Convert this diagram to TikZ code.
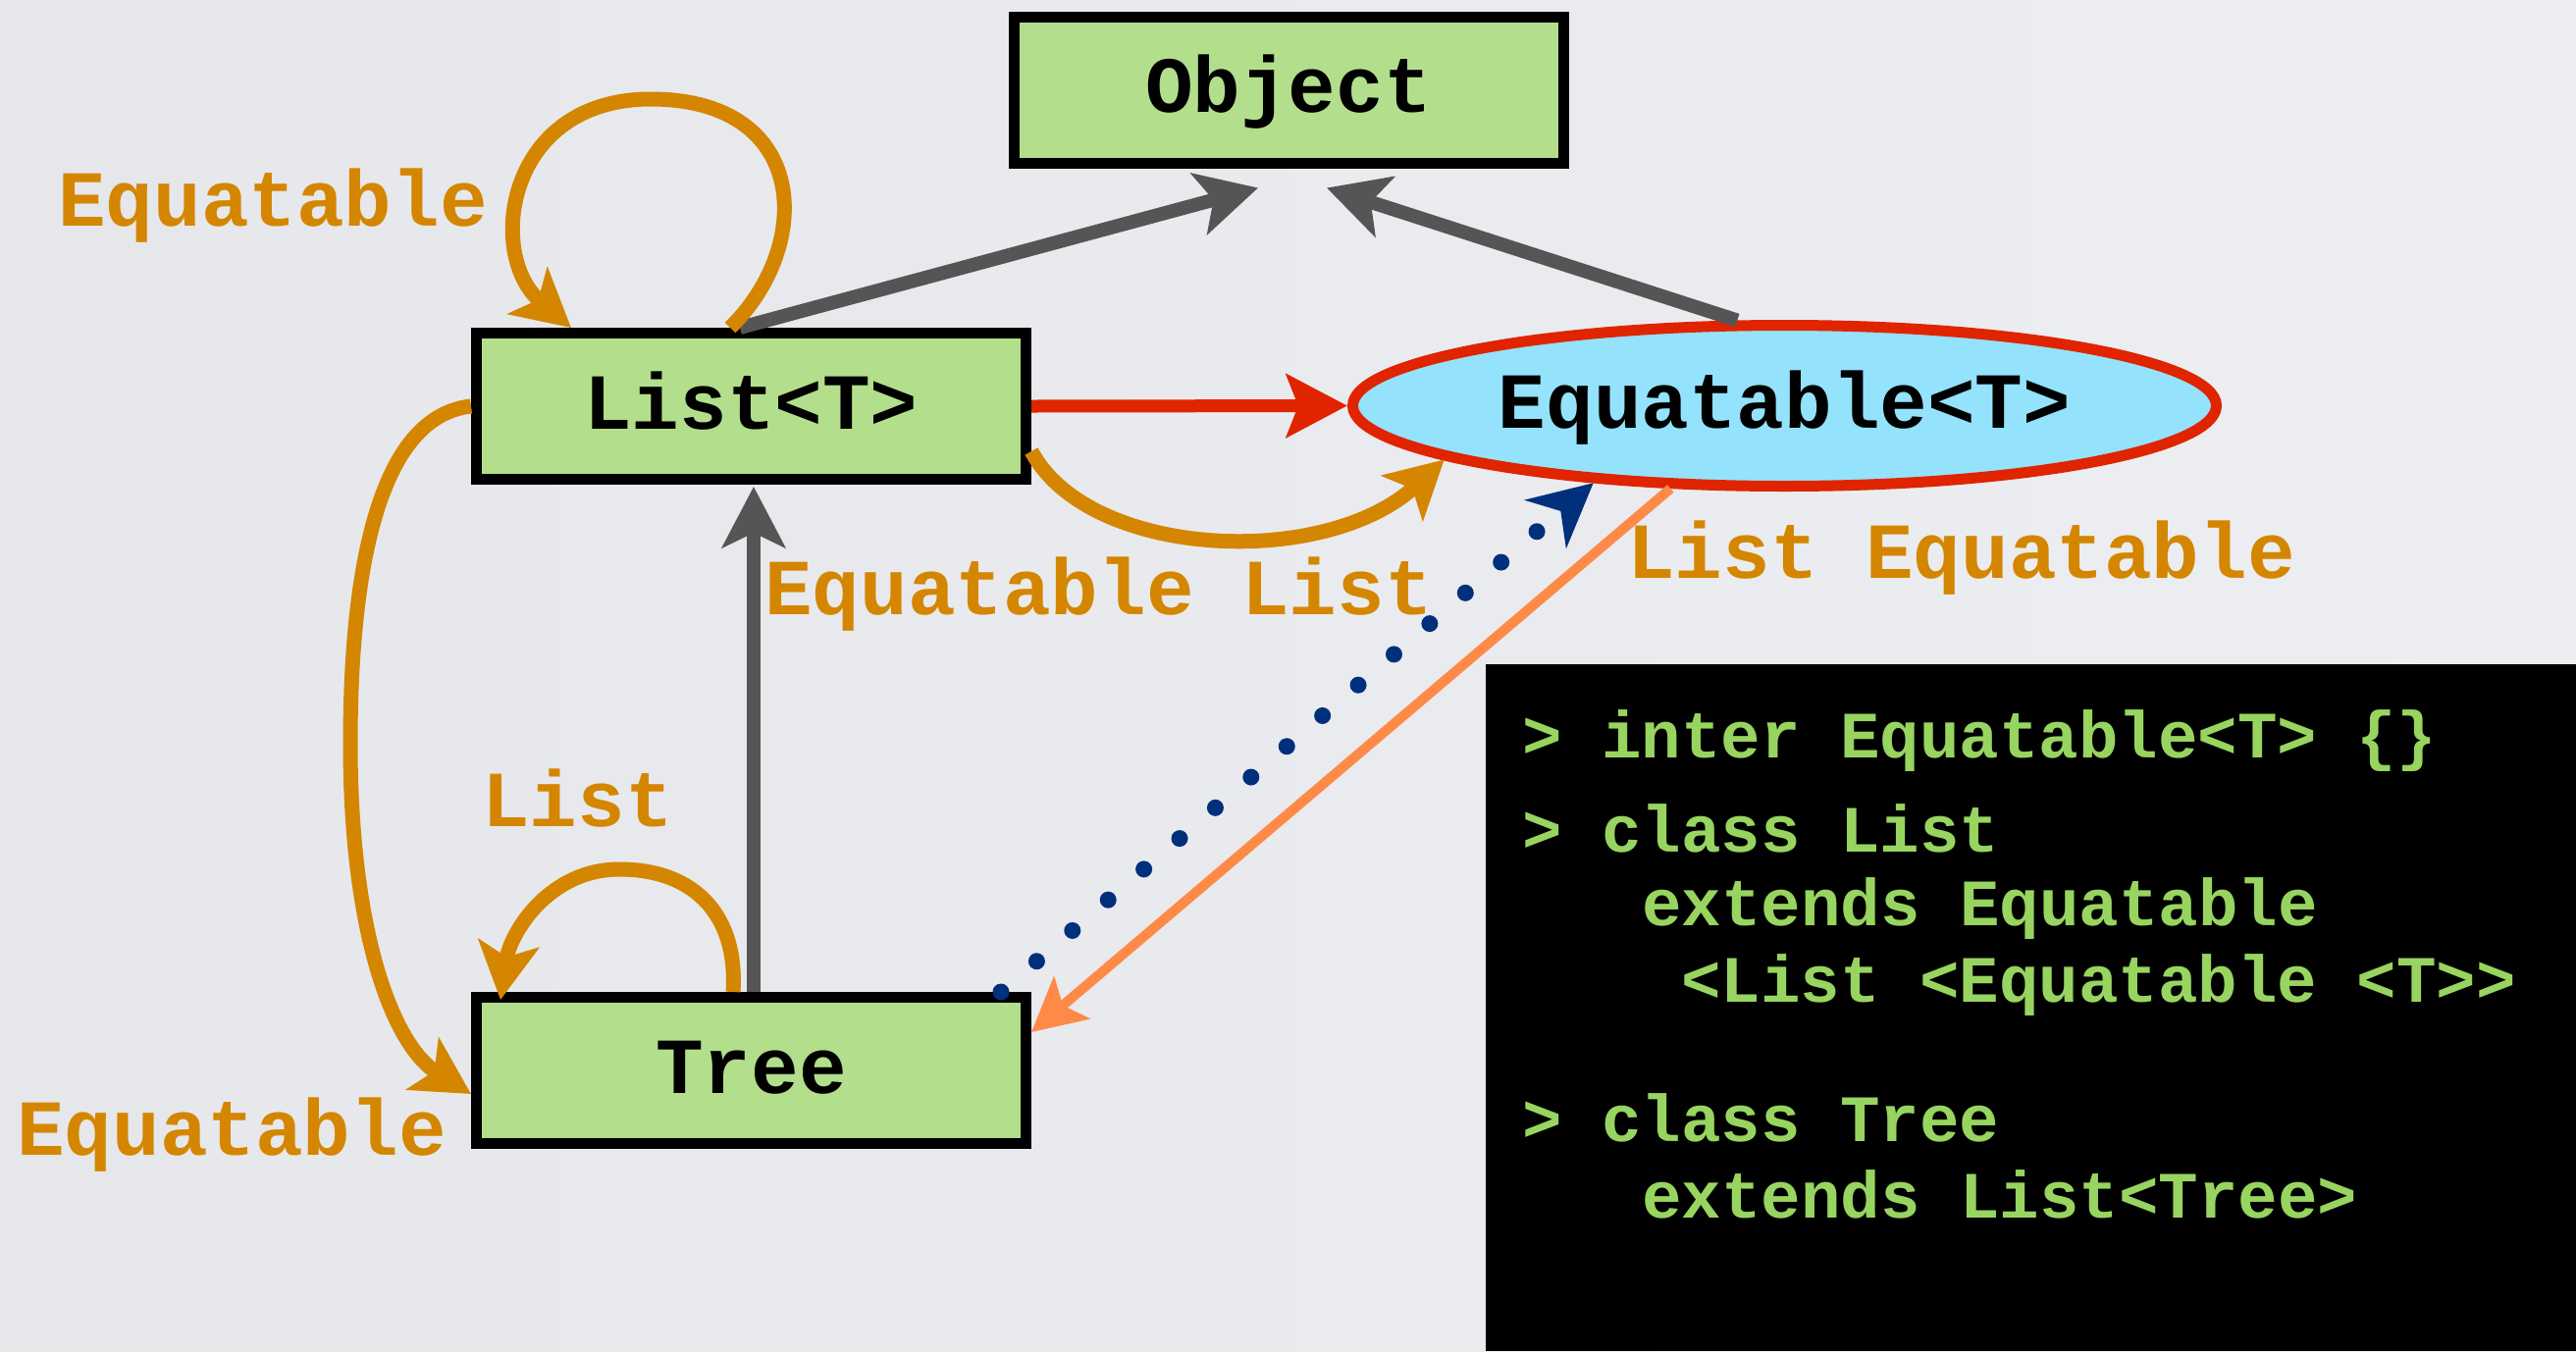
\documentclass[tikz,border=0pt]{standalone}
\usepackage{fontspec}
\usetikzlibrary{arrows.meta,shapes.geometric}
\newfontfamily\cmono{Liberation Mono}
\definecolor{bgc}{HTML}{EAECEF}
\definecolor{bgl}{HTML}{E5E7EA}
\definecolor{bgr}{HTML}{EDEEF1}
\definecolor{boxgreen}{HTML}{B3DE8C}
\definecolor{eqfill}{HTML}{94E2FC}
\definecolor{eqred}{HTML}{E02400}
\definecolor{lorange}{HTML}{D48600}
\definecolor{dgray}{HTML}{555555}
\definecolor{salmon}{HTML}{FF8A48}
\definecolor{navy}{HTML}{002F7C}
\definecolor{codegreen}{HTML}{98D460}
\tikzset{
  boxnode/.style={draw=black, fill=boxgreen, line width=11pt, minimum width=560pt,
    minimum height=149pt, inner sep=0pt, text height=46pt, text depth=0pt,
    font=\cmono\bfseries\fontsize{81}{81}\selectfont},
  eqnode/.style={ellipse, draw=eqred, fill=eqfill, line width=11pt, minimum width=880pt,
    minimum height=164pt, inner sep=0pt, text height=46pt, text depth=0pt,
    font=\cmono\bfseries\fontsize{81}{81}\selectfont},
  lab/.style={text=lorange, inner sep=0pt, anchor=base west,
    font=\cmono\bfseries\fontsize{81}{81}\selectfont},
  codeline/.style={text=codegreen, inner sep=0pt, anchor=base west,
    font=\cmono\bfseries\fontsize{67.5}{67.5}\selectfont},
  graylink/.style={draw=dgray, line width=14pt, -{Stealth[length=62pt,width=64pt,inset=15pt]}},
  orangelink/.style={draw=lorange, line width=15pt, -{Stealth[length=58pt,width=62pt,inset=14pt]}},
  redlink/.style={draw=eqred, line width=13pt, -{Stealth[length=62pt,width=64pt,inset=12pt]}},
  salmonlink/.style={draw=salmon, line width=10pt, -{Stealth[length=54pt,width=56pt,inset=12pt]}},
  navylink/.style={draw=navy, line width=17pt, line cap=round, dash pattern=on 0pt off 48pt,
    -{Stealth[length=64pt,width=64pt,inset=20pt]}},
}
\begin{document}
\begin{tikzpicture}[x=1pt,y=-1pt]
\useasboundingbox (0,0) rectangle (2625,1377);
\shade[left color=bgl, right color=bgr] (0,0) rectangle (2625,1377);

% code box
\node[fill=black, minimum width=1111pt, minimum height=700pt, inner sep=0pt, anchor=north west] (code) at (1514,677) {};
\node[codeline] (c1) at (1551,772) {> inter Equatable<T> \{\}};
\node[codeline] (c2) at (1551,868) {> class List};
\node[codeline] (c3) at (1673,943) {extends Equatable};
\node[codeline] (c4) at (1713,1021) {<List <Equatable <T>>};
\node[codeline] (c5) at (1551,1163) {> class Tree};
\node[codeline] (c6) at (1673,1241) {extends List<Tree>};

% nodes
\node[boxnode] (obj) at (1313,91.5) {Object};
\node[boxnode] (list) at (765.5,414) {List<T>};
\node[boxnode] (tree) at (765.5,1091) {Tree};
\node[eqnode] (eq) at (1818.5,413.5) {Equatable<T>};

% gray inheritance arrows
\draw[graylink] ([xshift=-11.5pt]list.north) -- ([xshift=-31pt,yshift=-20pt]obj.south);
\draw[graylink] (eq.119) -- ([xshift=39pt,yshift=-20pt]obj.south);
\draw[graylink] ([xshift=2.5pt]tree.north) -- ([xshift=2.5pt,yshift=-2pt]list.south);

% red arrow
\draw[redlink] (list.east) -- (eq.west);

% orange self loop on List
\draw[orangelink] ([xshift=-21.5pt]list.north) .. controls (830,250) and (825,101) .. (663,101)
   .. controls (515,101) and (495,260) .. ([xshift=-183.5pt]list.north);

% orange self loop on Tree
\draw[orangelink] ([xshift=-18.5pt]tree.north) .. controls (752,935) and (710,886) .. (631,886)
   .. controls (560,886) and (520,950) .. ([xshift=-255.5pt,yshift=-8pt]tree.north);

% big left curve List -> Tree
\draw[orangelink] (list.west) .. controls (380,425) and (357,600) .. (357,758)
   .. controls (357,950) and (400,1065) .. ([yshift=-24pt]tree.west);

% List -> Equatable curve
\draw[orangelink] ([yshift=-46pt]list.east) .. controls (1110,570) and (1350,580) .. (eq.189);

% dotted navy Tree -> Equatable
\draw[navylink] ([xshift=254.5pt]tree.north) -- (eq.202);

% salmon Equatable -> Tree
\draw[salmonlink] (eq.216) -- ([yshift=39pt]tree.east);

% labels
\node[lab] (l1) at (59,230) {Equatable};
\node[lab] (l2) at (779,626) {Equatable List};
\node[lab] (l3) at (1658,589) {List Equatable};
\node[lab] (l4) at (491,842) {List};
\node[lab] (l5) at (17,1177) {Equatable};
\end{tikzpicture}
\end{document}
